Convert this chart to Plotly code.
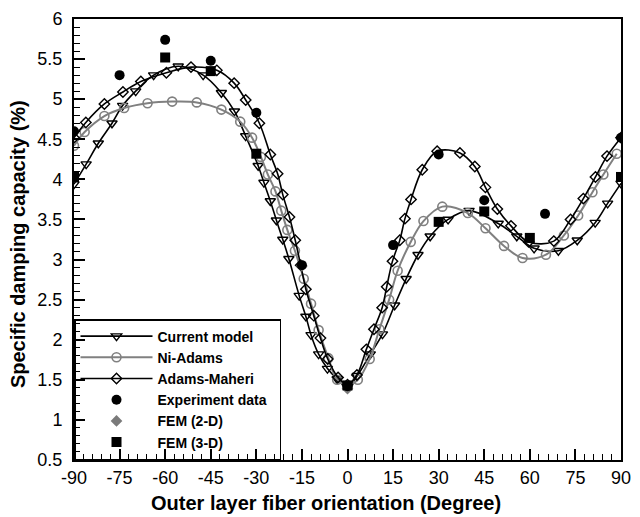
import plotly.graph_objects as go

# ---- data ----
cm_x = [-90, -86, -82, -77.5, -74, -69.7, -63.8, -55.7, -47.5, -41.5, -37.2, -33.5, -29.4, -27.5, -25.4,
        -23.4, -21.3, -19.3, -15.9, -13.7, -12, -9.5, -6.6, -3.4, 0, 3.2, 7.5, 11.5, 15.5, 19.3, 23.2,
        27.2, 33.1, 40, 49.6, 55.7, 61.4, 69.4, 75.6, 81.5, 85.6, 90]
cm_y = [3.94, 4.19, 4.45, 4.70, 4.92, 5.10, 5.30, 5.41, 5.30, 5.08, 4.85, 4.54, 4.17, 3.96, 3.73,
        3.49, 3.25, 3.01, 2.55, 2.29, 2.06, 1.82, 1.64, 1.51, 1.41, 1.55, 1.82, 2.07, 2.43, 2.76, 3.06,
        3.29, 3.50, 3.61, 3.45, 3.29, 3.14, 3.11, 3.24, 3.46, 3.70, 3.95]

na_x = [-90, -86.5, -80, -73.5, -65.8, -57.7, -49.6, -41.5, -35.3, -31.4, -28.5, -26.2, -23.7, -21.8,
        -19.8, -17.3, -14.4, -12, -9.5, -6.3, -3.4, 0, 3.4, 7.3, 10.5, 13.7, 16.5, 20.8, 25, 31.2, 39.6,
        45.4, 51.5, 57.6, 65.3, 71.2, 75.9, 80.6, 84.2, 88.6]
na_y = [4.42, 4.59, 4.79, 4.89, 4.95, 4.97, 4.96, 4.87, 4.72, 4.52, 4.28, 4.06, 3.85, 3.61,
        3.37, 3.11, 2.76, 2.45, 2.12, 1.77, 1.50, 1.43, 1.50, 1.76, 2.13, 2.50, 2.86, 3.22, 3.48, 3.66, 3.58,
        3.39, 3.17, 3.02, 3.06, 3.30, 3.55, 3.84, 4.06, 4.32]

am_x = [-90, -86.1, -80, -73.9, -68, -59.6, -51.5, -43, -37.3, -33.5, -29, -25.4, -23, -21.3, -19.1,
        -17.2, -15.4, -13.7, -11.1, -8.9, -6.5, -3.1, 0, 3.1, 6.2, 8.7, 11.4, 12.9, 14.8, 17.2, 18.9,
        20.9, 24.6, 29.5, 37, 41.9, 45.4, 49.3, 53.8, 59.6, 67.9, 73.4, 77.6, 81.6, 85.4, 90]
am_y = [4.52, 4.71, 4.94, 5.09, 5.22, 5.33, 5.40, 5.36, 5.20, 4.99, 4.70, 4.31, 4.07, 3.81, 3.53,
        3.24, 2.93, 2.63, 2.30, 2.02, 1.76, 1.53, 1.44, 1.56, 1.88, 2.13, 2.40, 2.66, 2.98, 3.24, 3.51,
        3.75, 4.12, 4.35, 4.33, 4.16, 3.90, 3.63, 3.42, 3.22, 3.23, 3.50, 3.76, 4.03, 4.29, 4.52]

ex_x = [-90, -75, -60, -45, -30, -15, 0, 15, 30, 45, 65, 90]
ex_y = [4.60, 5.30, 5.74, 5.48, 4.83, 2.93, 1.42, 3.18, 4.31, 3.74, 3.57, 4.52]

f2_x = [-15, 0]
f2_y = [2.92, 1.39]

f3_x = [-90, -60, -45, -30, 0, 30, 45, 60, 90]
f3_y = [4.03, 5.52, 5.35, 4.32, 1.43, 3.47, 3.60, 3.27, 4.03]

x_ticks = [-90, -75, -60, -45, -30, -15, 0, 15, 30, 45, 60, 75, 90]
y_ticks = [0.5, 1, 1.5, 2, 2.5, 3, 3.5, 4, 4.5, 5, 5.5, 6]

FONT = "Liberation Sans, Arial, sans-serif"
GRAY = "#808080"

fig = go.Figure()
fig.add_trace(go.Scatter(x=cm_x, y=cm_y, mode="lines+markers", name="Current model",
                         line=dict(color="black", width=1.6, shape="spline"),
                         marker=dict(symbol="triangle-down-open", size=9, color="black",
                                     line=dict(width=1.4))))
fig.add_trace(go.Scatter(x=na_x, y=na_y, mode="lines+markers", name="Ni-Adams",
                         line=dict(color=GRAY, width=2, shape="spline"),
                         marker=dict(symbol="circle-open", size=9, color=GRAY,
                                     line=dict(width=1.6))))
fig.add_trace(go.Scatter(x=am_x, y=am_y, mode="lines+markers", name="Adams-Maheri",
                         line=dict(color="black", width=1.6, shape="spline"),
                         marker=dict(symbol="diamond-open", size=8, color="black",
                                     line=dict(width=1.4))))
fig.add_trace(go.Scatter(x=f2_x, y=f2_y, mode="markers", name="FEM (2-D)",
                         marker=dict(symbol="diamond", size=9, color="#7a7a7a"),
                         legendrank=1005))
fig.add_trace(go.Scatter(x=ex_x, y=ex_y, mode="markers", name="Experiment data\u00a0\u00a0",
                         marker=dict(symbol="circle", size=10, color="black"),
                         legendrank=1004))
fig.add_trace(go.Scatter(x=f3_x, y=f3_y, mode="markers", name="FEM (3-D)",
                         marker=dict(symbol="square", size=10, color="black"),
                         legendrank=1006))

axis_common = dict(showline=True, linecolor="black", linewidth=2, mirror=True,
                   ticks="inside", ticklen=11, tickwidth=1.5, tickcolor="black",
                   showgrid=False, zeroline=False,
                   tickfont=dict(family=FONT, size=18, color="black"))

fig.update_xaxes(range=[-90, 90], tickvals=x_ticks, ticktext=[str(v) for v in x_ticks],
                 minor=dict(ticks="inside", dtick=3, ticklen=6, tickwidth=1.2, tickcolor="black"),
                 **axis_common)
fig.update_yaxes(range=[0.5, 6], tickvals=y_ticks, ticktext=[f"{v:g}" for v in y_ticks],
                 minor=dict(ticks="inside", dtick=0.1, ticklen=6, tickwidth=1.2, tickcolor="black"),
                 ticklabelstandoff=6, **axis_common)

fig.update_layout(
    width=640, height=517,
    margin=dict(l=74, r=9, t=15, b=57),
    plot_bgcolor="white", paper_bgcolor="white",
    font=dict(family=FONT, color="black"),
    showlegend=True,
    legend=dict(x=0, y=0, xanchor="left", yanchor="bottom",
                bgcolor="rgba(0,0,0,0)", bordercolor="black", borderwidth=1.5,
                font=dict(family=FONT, size=14, color="black", weight="bold"),
                itemwidth=72, traceorder="normal"),
    annotations=[
        dict(text="<b>Outer layer fiber orientation (Degree)</b>", xref="paper", yref="paper",
             x=0.461, y=-0.097, xanchor="center", yanchor="middle", showarrow=False,
             font=dict(family=FONT, size=20, color="black")),
        dict(text="<b>Specific damping capacity (%)</b>", xref="paper", yref="paper",
             x=-0.102, y=0.49, xanchor="center", yanchor="middle", showarrow=False, textangle=-90,
             font=dict(family=FONT, size=20, color="black")),
    ],
)

fig.write_html("out.html")
